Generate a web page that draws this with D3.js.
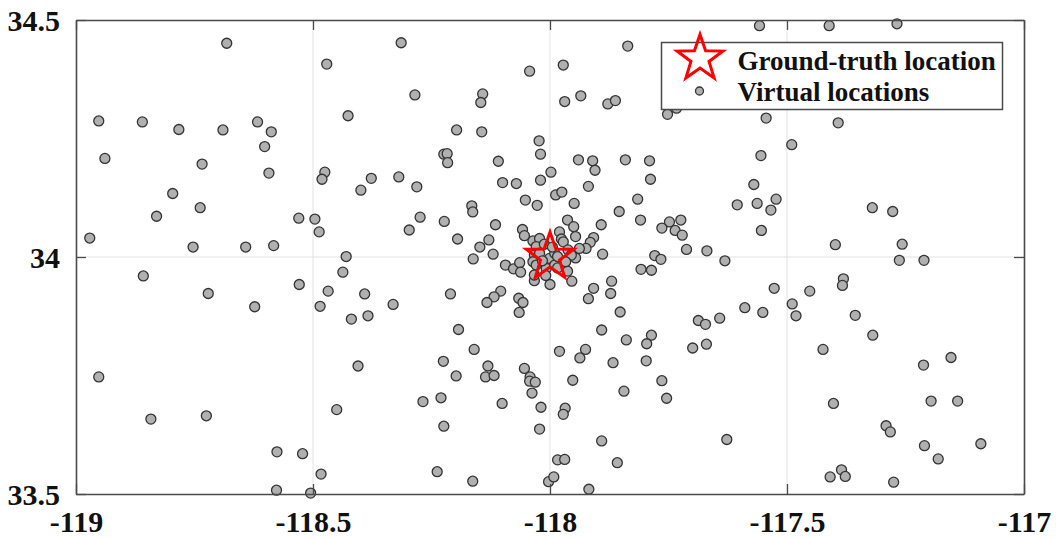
<!DOCTYPE html>
<html>
<head>
<meta charset="utf-8">
<script src="https://cdn.jsdelivr.net/npm/d3@7"></script>
<style>
  html, body { margin: 0; padding: 0; background: #fff; }
  svg { display: block; }
  .tick-label { font-family: "Times New Roman", "Liberation Serif", serif; font-weight: bold; font-size: 30px; fill: #111; }
  .legend-text { font-family: "Times New Roman", "Liberation Serif", serif; font-weight: bold; font-size: 27px; fill: #111; }
</style>
</head>
<body>
<svg id="chart" width="1056" height="538"></svg>
<script>
// Ground-truth source location
const truthLon = -118.0;
const truthLat = 34.0;

// Virtual (candidate) locations: longitude / latitude
const virtualLon = [
  -118.682, -118.471, -118.952, -118.860, -118.783, -118.690, -118.617, -118.588, -118.602, -118.939,
  -118.734, -118.593, -118.475, -118.481, -118.796, -118.738, -118.830, -118.530, -118.496, -118.487,
  -118.971, -118.753, -118.642, -118.583, -118.314, -118.426, -118.285, -118.043, -117.972, -117.836,
  -118.142, -118.146, -117.969, -117.935, -117.878, -117.862, -118.197, -118.144, -118.023, -118.020,
  -118.224, -118.217, -118.216, -118.109, -117.940, -117.910, -117.905, -117.841, -117.790, -117.788,
  -117.998, -118.020, -118.100, -118.071, -117.919, -118.377, -118.319, -118.399, -118.281, -117.988,
  -117.975, -118.052, -118.027, -117.949, -117.815, -118.165, -118.163, -117.854, -117.809, -118.274,
  -118.223, -118.297, -118.115, -117.963, -117.950, -117.892, -118.058, -118.195, -118.129, -117.946,
  -117.908, -117.915, -118.148, -117.924, -117.889, -118.430, -118.162, -118.120, -117.558, -117.411,
  -117.268, -117.752, -117.733, -117.544, -117.392, -117.490, -117.555, -117.570, -117.605, -117.563,
  -117.523, -117.534, -117.320, -117.277, -117.748, -117.724, -117.764, -117.736, -117.721, -117.554,
  -117.398, -117.257, -117.712, -117.669, -117.779, -117.766, -117.631, -117.263, -117.211, -117.808,
  -117.786, -117.381, -117.383, -117.527, -117.452, -117.489, -117.481, -117.356, -117.589, -117.551,
  -117.687, -117.672, -117.642, -117.786, -117.796, -117.797, -117.699, -117.670, -117.319, -117.424,
  -117.212, -117.154, -117.764, -117.754, -117.402, -117.196, -117.140, -117.291, -117.282, -117.627,
  -117.210, -117.091, -117.181, -117.385, -117.409, -117.377, -117.275, -118.858, -118.721, -118.623,
  -118.529, -118.468, -118.485, -118.952, -118.842, -118.725, -118.576, -118.522, -118.483, -118.577,
  -118.505, -118.437, -118.391, -118.419, -118.384, -118.331, -118.210, -118.094, -118.077, -118.064,
  -118.062, -118.033, -118.000, -117.954, -117.963, -117.946, -118.104, -118.118, -118.133, -118.066,
  -118.057, -118.065, -118.193, -118.160, -118.225, -118.198, -118.131, -118.136, -118.118, -118.054,
  -118.042, -118.043, -118.031, -118.038, -118.019, -117.980, -117.952, -117.968, -117.972, -118.022,
  -118.101, -118.268, -118.230, -118.224, -118.405, -118.450, -118.238, -118.163, -118.003, -117.992,
  -117.984, -117.969, -117.918, -117.908, -117.919, -117.870, -117.872, -117.852, -117.891, -117.925,
  -117.937, -117.867, -117.839, -117.844, -117.891, -117.858, -117.980, -117.976, -117.972, -118.036,
  -118.022, -118.029, -118.054, -117.938, -117.962, -117.955, -117.967, -118.001, -118.033, -118.036,
  -118.029, -118.008, -117.990, -118.033, -118.009, -117.990, -117.984, -118.022, -118.012, -117.995,
  -117.984, -118.016
];
const virtualLat = [
  34.451, 34.407, 34.287, 34.285, 34.269, 34.268, 34.285, 34.264, 34.233, 34.208,
  34.196, 34.177, 34.179, 34.164, 34.134, 34.104, 34.086, 34.082, 34.080, 34.053,
  34.040, 34.021, 34.021, 34.024, 34.452, 34.298, 34.342, 34.392, 34.405, 34.445,
  34.344, 34.326, 34.328, 34.340, 34.323, 34.330, 34.268, 34.264, 34.245, 34.217,
  34.217, 34.218, 34.199, 34.202, 34.205, 34.203, 34.183, 34.205, 34.203, 34.164,
  34.179, 34.162, 34.157, 34.155, 34.149, 34.166, 34.169, 34.141, 34.148, 34.131,
  34.137, 34.120, 34.109, 34.113, 34.122, 34.108, 34.095, 34.096, 34.078, 34.084,
  34.075, 34.057, 34.068, 34.078, 34.064, 34.068, 34.058, 34.038, 34.036, 34.043,
  34.041, 34.031, 34.021, 34.018, 34.006, 34.001, 33.996, 34.006, 34.488, 34.488,
  34.492, 34.301, 34.314, 34.293, 34.283, 34.237, 34.214, 34.153, 34.110, 34.113,
  34.122, 34.099, 34.104, 34.096, 34.074, 34.078, 34.061, 34.056, 34.046, 34.056,
  34.026, 34.027, 34.016, 34.013, 34.003, 33.995, 33.992, 33.993, 33.993, 33.974,
  33.972, 33.954, 33.940, 33.934, 33.928, 33.901, 33.876, 33.877, 33.893, 33.883,
  33.866, 33.858, 33.871, 33.835, 33.817, 33.781, 33.808, 33.816, 33.835, 33.805,
  33.772, 33.788, 33.739, 33.702, 33.691, 33.696, 33.696, 33.644, 33.631, 33.615,
  33.602, 33.606, 33.574, 33.551, 33.536, 33.537, 33.525, 33.960, 33.923, 33.895,
  33.942, 33.928, 33.896, 33.747, 33.658, 33.665, 33.589, 33.585, 33.542, 33.508,
  33.502, 33.968, 33.922, 33.869, 33.876, 33.900, 33.922, 33.983, 33.975, 33.988,
  33.968, 33.950, 33.942, 33.949, 33.970, 33.998, 33.928, 33.916, 33.904, 33.913,
  33.904, 33.883, 33.847, 33.805, 33.780, 33.749, 33.770, 33.747, 33.750, 33.765,
  33.747, 33.738, 33.736, 33.713, 33.683, 33.801, 33.740, 33.681, 33.668, 33.637,
  33.691, 33.695, 33.703, 33.643, 33.770, 33.678, 33.547, 33.527, 33.526, 33.536,
  33.572, 33.573, 33.510, 33.934, 33.912, 33.949, 33.923, 33.884, 33.846, 33.805,
  33.787, 33.777, 33.825, 33.717, 33.612, 33.566, 34.053, 34.038, 34.032, 34.034,
  34.039, 34.022, 34.045, 34.018, 34.015, 34.004, 33.990, 33.997, 34.004, 33.990,
  33.983, 33.976, 33.983, 33.962, 33.961, 34.008, 34.001, 34.008, 34.027, 34.021,
  33.977, 33.992
];

// Axis ticks
const xTicks = [-119, -118.5, -118, -117.5, -117];
const yTicks = [33.5, 34, 34.5];
const xTickLabels = ["-119", "-118.5", "-118", "-117.5", "-117"];
const yTickLabels = ["33.5", "34", "34.5"];

// Legend entries
const legendLabels = ["Ground-truth location", "Virtual locations"];

const points = virtualLon.map((lon, i) => ({ lon, lat: virtualLat[i] }));

const svg = d3.select("#chart");
const plot = { left: 76, right: 1024, top: 20, bottom: 494 };

const x = d3.scaleLinear().domain([-119, -117]).range([plot.left, plot.right]);
const y = d3.scaleLinear().domain([33.5, 34.5]).range([plot.bottom, plot.top]);

// Grid lines
const grid = svg.append("g").attr("class", "grid");
grid.selectAll("line.gx")
  .data(xTicks.slice(1, -1))
  .join("line")
  .attr("x1", d => x(d)).attr("x2", d => x(d))
  .attr("y1", plot.top).attr("y2", plot.bottom)
  .attr("stroke", "#e2e2e2").attr("stroke-width", 1);
grid.selectAll("line.gy")
  .data(yTicks.slice(1, -1))
  .join("line")
  .attr("y1", d => y(d)).attr("y2", d => y(d))
  .attr("x1", plot.left).attr("x2", plot.right)
  .attr("stroke", "#e2e2e2").attr("stroke-width", 1);

// Virtual locations
svg.append("g")
  .selectAll("circle")
  .data(points)
  .join("circle")
  .attr("cx", d => x(d.lon))
  .attr("cy", d => y(d.lat))
  .attr("r", 5)
  .attr("fill", "#b0b0b0")
  .attr("stroke", "#333")
  .attr("stroke-width", 1.3);

// Five-pointed star path
function starPath(cx, cy, rOuter, rInner) {
  const pts = [];
  for (let k = 0; k < 10; k++) {
    const r = k % 2 === 0 ? rOuter : rInner;
    const a = -Math.PI / 2 + k * Math.PI / 5;
    pts.push([cx + r * Math.cos(a), cy + r * Math.sin(a)]);
  }
  return "M" + pts.map(p => p.join(",")).join("L") + "Z";
}

svg.append("path")
  .attr("d", starPath(x(truthLon), y(truthLat), 25, 10))
  .attr("fill", "none")
  .attr("stroke", "#ff0000")
  .attr("stroke-width", 3)
  .attr("stroke-linejoin", "miter");

// Axes frame with inward ticks on all four sides
const axisColor = "#4a4a4a";
const tickLen = 10;
const xAxisB = d3.axisBottom(x).tickValues(xTicks).tickSizeInner(-tickLen).tickSizeOuter(0).tickFormat((d, i) => xTickLabels[i]).tickPadding(tickLen + 7);
const xAxisT = d3.axisTop(x).tickValues(xTicks).tickSizeInner(-tickLen).tickSizeOuter(0).tickFormat("");
const yAxisL = d3.axisLeft(y).tickValues(yTicks).tickSizeInner(-tickLen).tickSizeOuter(0).tickFormat((d, i) => yTickLabels[i]).tickPadding(tickLen + 6);
const yAxisR = d3.axisRight(y).tickValues(yTicks).tickSizeInner(-tickLen).tickSizeOuter(0).tickFormat("");

function styleAxis(g) {
  g.select(".domain").attr("stroke", axisColor).attr("stroke-width", 1.6);
  g.selectAll(".tick line").attr("stroke", axisColor).attr("stroke-width", 1.3);
  g.selectAll(".tick text").attr("class", "tick-label").attr("fill", "#111");
}

svg.append("g").attr("transform", `translate(0,${plot.bottom})`).call(xAxisB).call(styleAxis)
  .selectAll(".tick text").attr("dy", "0.71em");
svg.append("g").attr("transform", `translate(0,${plot.top})`).call(xAxisT).call(styleAxis);
svg.append("g").attr("transform", `translate(${plot.left},0)`).call(yAxisL).call(styleAxis)
  .selectAll(".tick text").attr("dy", "0.36em");
svg.append("g").attr("transform", `translate(${plot.right},0)`).call(yAxisR).call(styleAxis);

// Legend
const legend = svg.append("g").attr("transform", "translate(661.5,42.5)");
legend.append("rect")
  .attr("width", 341).attr("height", 67)
  .attr("fill", "#fff").attr("stroke", "#4a4a4a").attr("stroke-width", 1.5);
legend.append("path")
  .attr("d", starPath(38.5, 16, 24, 9.5))
  .attr("fill", "none").attr("stroke", "#ff0000").attr("stroke-width", 3);
legend.append("circle")
  .attr("cx", 38).attr("cy", 48.5).attr("r", 4)
  .attr("fill", "#b0b0b0").attr("stroke", "#333").attr("stroke-width", 1.3);
legend.selectAll("text")
  .data(legendLabels)
  .join("text")
  .attr("class", "legend-text")
  .attr("x", 76)
  .attr("y", (d, i) => 27 + i * 31.5)
  .text(d => d);
</script>
</body>
</html>
